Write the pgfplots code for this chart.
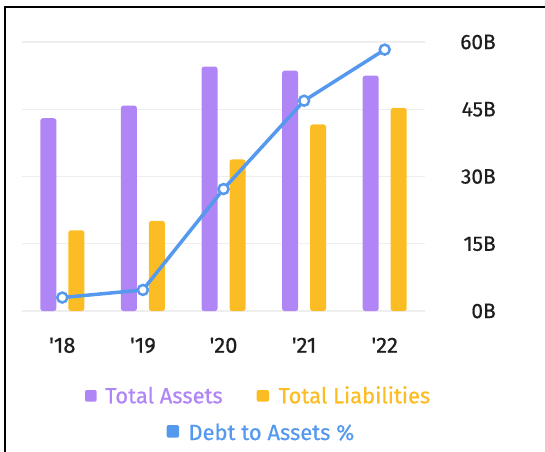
\documentclass[border=0pt]{standalone}
\usepackage{pgfplots}
\pgfplotsset{compat=1.18}
\usepackage{fontspec}
\setmainfont{Fira Sans}
\newfontfamily\plainfont{Fira Sans}[FakeBold=0.6]
\definecolor{assets}{HTML}{B085F5}
\definecolor{liab}{HTML}{FBBD23}
\definecolor{ratio}{HTML}{5599EE}
\definecolor{gridc}{HTML}{EEEEEE}
\definecolor{tickc}{HTML}{1E1E1E}

\begin{document}
\begin{tikzpicture}
\path[use as bounding box] (-22bp,-141bp) rectangle (523bp,311bp);
\draw[line width=2bp] (-17bp,-141bp) -- (-17bp,304bp) -- (523bp,304bp);
\begin{axis}[
  at={(0,0)}, anchor=south west,
  scale only axis, width=403bp, height=269bp,
  xmin=-0.5, xmax=4.5, ymin=0, ymax=60,
  axis line style={draw=none}, tick style={draw=none},
  clip=false,
  ytick={0,15,30,45,60}, yticklabels={0B,15B,30B,45B,60B},
  yticklabel pos=right,
  yticklabel style={anchor=east, xshift=71bp, inner sep=0pt, text=tickc,
    font=\plainfont\fontsize{21}{25}\selectfont},
  xtick={0,1,2,3,4}, xticklabels={{'18},{'19},{'20},{'21},{'22}},
  xticklabel style={anchor=base, yshift=-41.7bp, inner sep=0pt, text=tickc,
    font=\plainfont\fontsize{22}{26}\selectfont},
  ymajorgrids, grid style={gridc, line width=1.2bp},
]
\addplot[ybar, bar width=16bp, bar shift=-14bp, fill=assets, draw=none, rounded corners=2.5bp]
  coordinates {(0,43.0) (1,45.8) (2,54.5) (3,53.6) (4,52.5)};
\addplot[ybar, bar width=16bp, bar shift=14bp, fill=liab, draw=none, rounded corners=2.5bp]
  coordinates {(0,18.0) (1,20.1) (2,33.8) (3,41.6) (4,45.3)};
\addplot[ratio, line width=3.5bp, mark=*, mark size=5bp,
  mark options={fill=white, draw=ratio, line width=2.5bp}]
  coordinates {(0,3.0) (1,4.7) (2,27.2) (3,46.9) (4,58.3)};
\end{axis}
% legend
\fill[assets, rounded corners=2bp] (63bp,-90.7bp) rectangle (74.7bp,-79bp);
\node[anchor=base west, inner sep=0pt, text=assets, font=\plainfont\fontsize{22}{26}\selectfont]
  at (83bp,-92.3bp) {Total Assets};
\fill[liab, rounded corners=2bp] (234.7bp,-90.7bp) rectangle (247bp,-79bp);
\node[anchor=base west, inner sep=0pt, text=liab, font=\plainfont\fontsize{22}{26}\selectfont]
  at (256.3bp,-92.3bp) {Total Liabilities};
\fill[ratio, rounded corners=2bp] (144.7bp,-126.7bp) rectangle (157bp,-114bp);
\node[anchor=base west, inner sep=0pt, text=ratio, font=\plainfont\fontsize{22}{26}\selectfont]
  at (166.3bp,-129bp) {Debt to Assets \%};
\end{tikzpicture}
\end{document}
